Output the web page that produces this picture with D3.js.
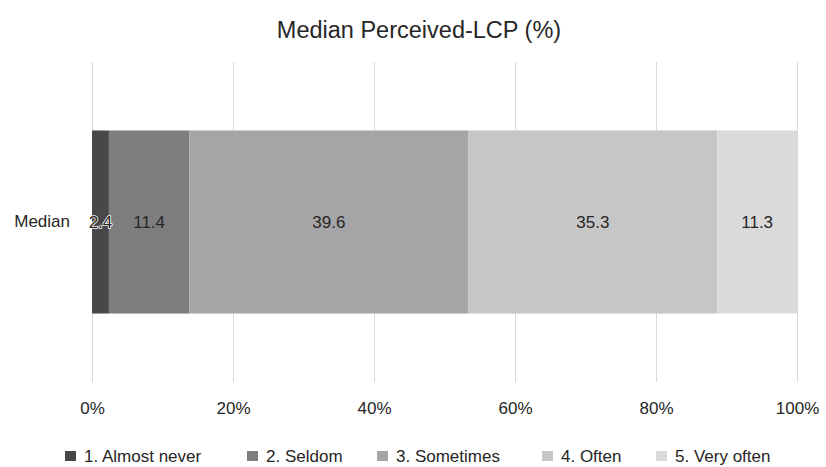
<!DOCTYPE html>
<html>
<head>
<meta charset="utf-8">
<script src="https://cdn.jsdelivr.net/npm/d3@7"></script>
<style>
  html, body { margin: 0; padding: 0; background: #fff; }
  svg { display: block; font-family: "Liberation Sans", Arial, Helvetica, sans-serif; }
</style>
</head>
<body>
<svg id="chart" width="826" height="467"></svg>
<script>
// Stacked 100% bar of perceived-LCP responses
const categories = ["Median"];
const seriesNames = ["1. Almost never", "2. Seldom", "3. Sometimes", "4. Often", "5. Very often"];
const seriesValues = [2.4, 11.4, 39.6, 35.3, 11.3];
const seriesColors = ["#48484a", "#7e7e80", "#a5a5a7", "#c6c6c7", "#dadadb"];
const tickValues = [0, 20, 40, 60, 80, 100];
const titleText = "Median Perceived-LCP (%)";

const svg = d3.select("#chart");
const W = 826, H = 467;
const m = { left: 92, right: 29, top: 62, bottom: 85 };
const textColor = "#262626";

const x = d3.scaleLinear().domain([0, 100]).range([m.left, W - m.right]);
const y = d3.scaleBand().domain(categories).range([m.top, H - m.bottom]).paddingInner(0).paddingOuter(0.374);

// title
svg.append("text")
  .attr("x", 419).attr("y", 38)
  .attr("text-anchor", "middle")
  .attr("font-size", 23.5)
  .attr("fill", textColor)
  .text(titleText);

// vertical gridlines
svg.append("g").selectAll("line").data(tickValues).join("line")
  .attr("x1", d => Math.round(x(d)) + 0.5).attr("x2", d => Math.round(x(d)) + 0.5)
  .attr("y1", m.top).attr("y2", H - m.bottom)
  .attr("stroke", "#d9d9d9").attr("stroke-width", 1);

// x axis tick labels
const xAxis = d3.axisBottom(x).tickValues(tickValues).tickFormat(d => d + "%").tickSize(0).tickPadding(0);
const gx = svg.append("g").attr("transform", `translate(0,${H - m.bottom + 20})`).call(xAxis);
gx.select(".domain").remove();
gx.selectAll("text").attr("font-size", 17).attr("fill", textColor).attr("font-family", null);

// category label
const ay = svg.append("g").attr("transform", `translate(${m.left - 22},0)`)
  .call(d3.axisLeft(y).tickSize(0).tickPadding(0));
ay.select(".domain").remove();
ay.selectAll("text").attr("font-size", 17).attr("fill", textColor).attr("font-family", null);

// stacked segments
const cum = d3.cumsum(seriesValues);
const segs = seriesValues.map((v, i) => ({ name: seriesNames[i], value: v, x0: cum[i] - v, x1: cum[i], color: seriesColors[i] }));

const cat = categories[0];
svg.append("g").selectAll("rect").data(segs).join("rect")
  .attr("x", d => x(d.x0))
  .attr("width", d => x(d.x1) - x(d.x0))
  .attr("y", y(cat))
  .attr("height", y.bandwidth())
  .attr("fill", d => d.color);

// value labels
const labels = svg.append("g").selectAll("text").data(segs).join("text")
  .attr("x", d => (x(d.x0) + x(d.x1)) / 2)
  .attr("y", y(cat) + y.bandwidth() / 2)
  .attr("dy", "0.35em")
  .attr("text-anchor", "middle")
  .attr("font-size", 17)
  .attr("fill", textColor)
  .text(d => d.value.toFixed(1));
// white halo where a label overflows its segment
labels.each(function(d) {
  const w = this.getComputedTextLength();
  if (w > x(d.x1) - x(d.x0)) {
    d3.select(this).attr("stroke", "#fff").attr("stroke-width", 1.6)
      .attr("paint-order", "stroke").attr("stroke-linejoin", "round");
  }
});

// legend
const legend = svg.append("g").attr("transform", `translate(0,${H - 5})`);
const legendX = [65, 247, 377, 542, 656];
const items = legend.selectAll("g").data(segs).join("g")
  .attr("transform", (d, i) => `translate(${legendX[i]},0)`);
items.append("rect").attr("x", 0).attr("y", -11).attr("width", 11).attr("height", 10).attr("fill", d => d.color);
items.append("text").attr("x", 19).attr("y", -6).attr("dy", "0.35em")
  .attr("font-size", 17).attr("fill", textColor).text(d => d.name);
</script>
</body>
</html>
